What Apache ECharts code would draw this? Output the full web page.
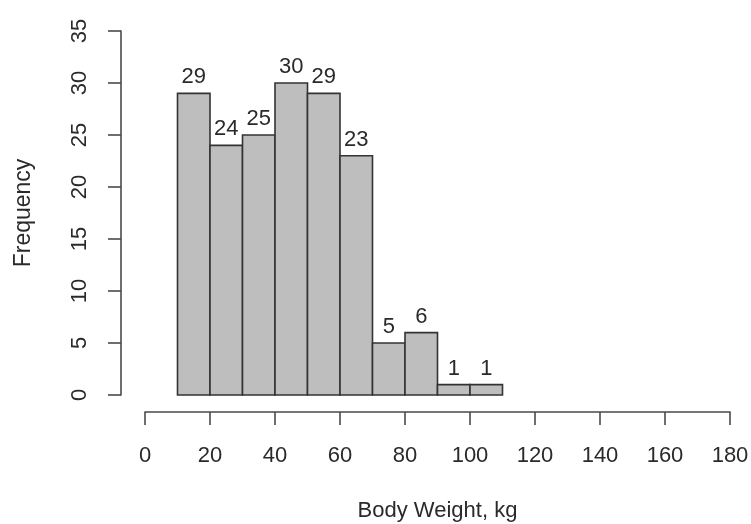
<!DOCTYPE html>
<html>
<head>
<meta charset="utf-8">
<script src="https://cdn.jsdelivr.net/npm/echarts@6/dist/echarts.min.js"></script>
<style>
html,body{margin:0;padding:0;background:#fff;}
#chart{width:751px;height:524px;}
</style>
</head>
<body>
<div id="chart"></div>
<script>
var binStarts = [10, 20, 30, 40, 50, 60, 70, 80, 90, 100];
var binEnds = [20, 30, 40, 50, 60, 70, 80, 90, 100, 110];
var counts = [29, 24, 25, 30, 29, 23, 5, 6, 1, 1];
var xTitle = 'Body Weight, kg';
var yTitle = 'Frequency';

var FONT = 'Liberation Sans, Arial, sans-serif';
var TEXT = '#2a2a2a';
var AXIS = '#4a4a4a';

var data = binStarts.map(function (s, i) { return [s, binEnds[i], counts[i]]; });

var chart = echarts.init(document.getElementById('chart'), null, {renderer: 'canvas'});
chart.setOption({
  backgroundColor: '#fff',
  animation: false,
  grid: {left: 145, right: 21, top: 31, bottom: 129, outerBoundsMode: 'none', containLabel: false},
  xAxis: {
    type: 'value', min: 0, max: 180, interval: 20,
    offset: 17,
    name: xTitle, nameLocation: 'middle', nameGap: 88,
    nameTextStyle: {fontFamily: FONT, fontSize: 22, color: TEXT},
    axisLine: {show: true, onZero: false, lineStyle: {color: AXIS, width: 1.6}},
    axisTick: {show: true, length: 13, lineStyle: {color: AXIS, width: 1.6}},
    axisLabel: {margin: 33, fontFamily: FONT, fontSize: 22, color: TEXT},
    splitLine: {show: false}
  },
  yAxis: {
    type: 'value', min: 0, max: 35, interval: 5,
    offset: 24,
    name: yTitle, nameLocation: 'middle', nameGap: 86, nameRotate: 90,
    nameTextStyle: {fontFamily: FONT, fontSize: 23, color: TEXT},
    axisLine: {show: true, onZero: false, lineStyle: {color: AXIS, width: 1.6}},
    axisTick: {show: true, length: 13, lineStyle: {color: AXIS, width: 1.6}},
    axisLabel: {margin: 30, rotate: 90, fontFamily: FONT, fontSize: 22, color: TEXT},
    splitLine: {show: false}
  },
  series: [{
    type: 'custom',
    data: data,
    encode: {x: [0, 1], y: 2},
    renderItem: function (params, api) {
      var p0 = api.coord([api.value(0), 0]);
      var p1 = api.coord([api.value(1), api.value(2)]);
      return {
        type: 'group',
        children: [{
          type: 'rect',
          shape: {x: p0[0], y: p1[1], width: p1[0] - p0[0], height: p0[1] - p1[1]},
          style: {fill: '#bebebe', stroke: '#333', lineWidth: 1.6}
        }, {
          type: 'text',
          style: {
            text: String(api.value(2)),
            x: (p0[0] + p1[0]) / 2, y: p1[1] - 5,
            textAlign: 'center', textVerticalAlign: 'bottom',
            font: '22px ' + FONT, fill: TEXT
          }
        }]
      };
    }
  }]
});
</script>
</body>
</html>
